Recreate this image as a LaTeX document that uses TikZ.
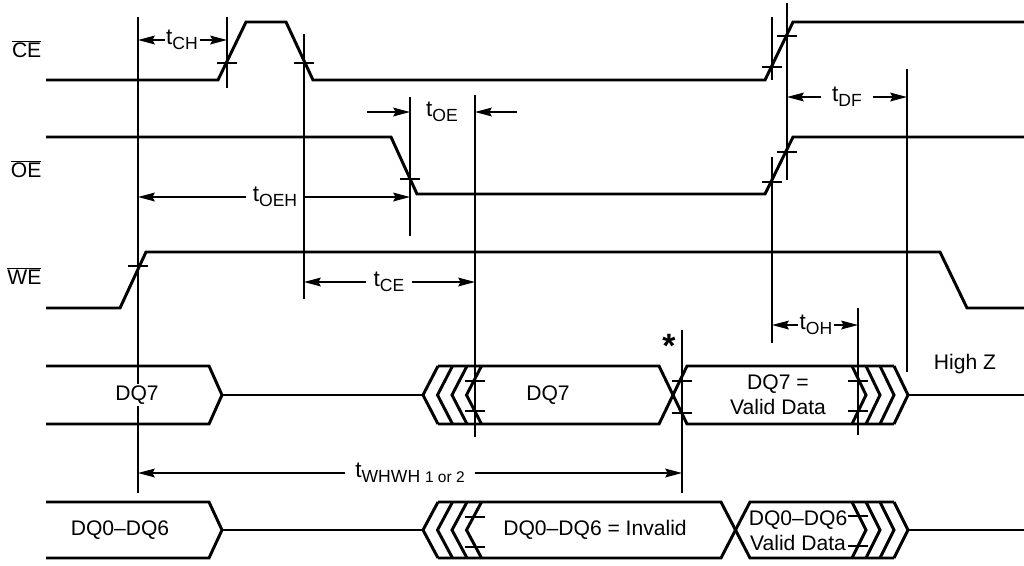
\documentclass[tikz,border=0pt]{standalone}
\usepackage{fontspec}
\setmainfont{Liberation Sans}
\usetikzlibrary{arrows.meta, calc}
\newcommand{\tsub}[1]{t\raisebox{-3.5pt}{\fontsize{12.5}{13}\selectfont #1}}
\newcommand{\ovl}[1]{$\overline{\mbox{#1}}$}

\begin{document}
\begin{tikzpicture}[x=0.25mm, y=-0.25mm,
  sig/.style={line width=2.1pt},
  ref/.style={line width=0.9pt},
  dim/.style={line width=0.9pt, -{Stealth[length=4.2mm, width=2.2mm, inset=0.6mm]}},
  txt/.style={font=\fontsize{15}{17.5}\selectfont, inner sep=1pt, align=center},
  tlbl/.style={font=\fontsize{16}{18}\selectfont, inner sep=0pt, inner xsep=5pt},
]
  \useasboundingbox (0,0) rectangle (1024,565);

  % reference lines (name / x / top / bottom)
  \foreach \n/\x/\ya/\yb in {WE/138/17/493, CH/227/17/88, CEf/304/34/299,
      OEf/410/97/236, DQv/475/95/437, OEr/772/17/80, CEr/787/3/180,
      HZ/907/69/372, OH/858/308/435, PL/682/330/493} {
    \coordinate (\n) at (\x,0);
    \draw[ref] (\x,\ya) -- (\x,\yb);
  }
  \draw[ref] (772,157) -- (772,343);

  % crossing ticks
  \foreach \x/\y in {227/63, 304/63, 772/67, 787/36, 410/179, 772/182, 787/152,
      138/266, 475/381, 475/411, 682/381, 682/413, 858/381, 858/411,
      475/517, 475/547, 858/516, 858/546}
    \draw[ref] (\x-10,\y) -- (\x+10,\y);

  % control signals
  \node[txt, anchor=east] (nCE) at (43,49)  {\ovl{CE}};
  \node[txt, anchor=east] (nOE) at (43,169) {\ovl{OE}};
  \node[txt, anchor=east] (nWE) at (43,276) {\ovl{WE}};
  \draw[sig] (46,80) -- (218,80) -- (246,22) -- (286,22) -- (313,80)
             -- (765,80) -- (793,22) -- (1024,22);
  \draw[sig] (46,137) -- (391,137) -- (417,194) -- (765,194) -- (793,137) -- (1024,137);
  \draw[sig] (46,308) -- (120,308) -- (146,252) -- (940,252) -- (967,308) -- (1024,308);

  % data buses (top / middle / bottom / start and end of crossing)
  \foreach \yt/\ym/\yb/\xa/\xb in {366/395/424/659/687, 502/530/558/721/750} {
    \draw[sig] (46,\yt) -- (209,\yt) -- (222,\ym) -- (209,\yb) -- (46,\yb);
    \draw[sig] (222,\ym) -- (423,\ym);
    \foreach \k in {0,...,3}
      \draw[sig] (438+14.5*\k,\yt) -- (423+14.5*\k,\ym) -- (438+14.5*\k,\yb);
    \draw[sig] (438,\yt) -- (\xa,\yt) -- (\xb,\yb) -- (894,\yb);
    \draw[sig] (438,\yb) -- (\xa,\yb) -- (\xb,\yt) -- (894,\yt);
    \foreach \k in {0,...,3}
      \draw[sig] (852+14*\k,\yt) -- (866+14*\k,\ym) -- (852+14*\k,\yb);
    \draw[sig] (908,\ym) -- (1024,\ym);
  }

  \node[txt, fill=white] (d7a) at (137,395) {DQ7};
  \node[txt] (d7b) at (548,395) {DQ7};
  \node[txt] (d7c) at (778,395) {DQ7 =\\Valid Data};
  \node[txt] (hiz) at (965,364) {High Z};
  \node[txt, font=\fontsize{24}{24}\selectfont] (star) at (669,346) {\textbf{*}};
  \node[txt] (d0a) at (120,530) {DQ0\textendash DQ6};
  \node[txt] (d0b) at (595,530) {DQ0\textendash DQ6 = Invalid};
  \node[txt] (d0c) at (798,531) {DQ0\textendash DQ6\\Valid Data};

  % timing parameters
  \node[tlbl, inner xsep=1pt] (tCH) at (182,40) {\tsub{CH}};
  \draw[dim] (tCH.west) -- (tCH.west -| WE);
  \draw[dim] (tCH.east) -- (tCH.east -| CH);

  \node[tlbl] (tOEH) at (275,197) {\tsub{OEH}};
  \draw[dim] (tOEH.west) -- (tOEH.west -| WE);
  \draw[dim] (tOEH.east) -- (tOEH.east -| OEf);

  \node[tlbl] (tOE) at (442,112) {\tsub{OE}};
  \draw[dim] ($(tOE -| OEf)+(-43,0)$) -- (tOE -| OEf);
  \draw[dim] ($(tOE -| DQv)+(42,0)$) -- (tOE -| DQv);

  \node[tlbl] (tCE) at (389,282) {\tsub{CE}};
  \draw[dim] (tCE.west) -- (tCE.west -| CEf);
  \draw[dim] (tCE.east) -- (tCE.east -| DQv);

  \node[tlbl, inner xsep=8pt] (tDF) at (847,97) {\tsub{DF}};
  \draw[dim] (tDF.west) -- (tDF.west -| CEr);
  \draw[dim] (tDF.east) -- (tDF.east -| HZ);

  \node[tlbl, inner xsep=1pt] (tOH) at (816,325) {\tsub{OH}};
  \draw[dim] (tOH.west) -- (tOH.west -| OEr);
  \draw[dim] (tOH.east) -- (tOH.east -| OH);

  \node[tlbl, inner xsep=7pt] (tWH) at (410,473)
    {\tsub{WHWH {\fontsize{11}{12}\selectfont 1 or 2}}};
  \draw[dim] (tWH.west) -- (tWH.west -| WE);
  \draw[dim] (tWH.east) -- (tWH.east -| PL);
\end{tikzpicture}
\end{document}
